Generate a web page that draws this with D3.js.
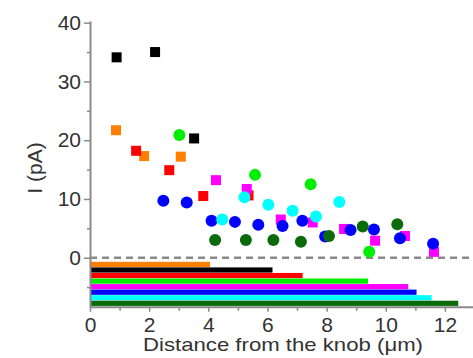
<!DOCTYPE html>
<html><head><meta charset="utf-8">
<script src="https://cdn.jsdelivr.net/npm/d3@7"></script>
<style>body{margin:0;background:#fff}svg{display:block}text{font-family:"Liberation Sans",Arial,sans-serif;fill:#333}</style>
</head><body><svg id="c" width="473" height="358"></svg>
<script>
// ---- data ----
const seriesNames = ["black","orange","red","magenta","lime","blue","cyan","darkgreen"];
const seriesColors = ["#000000","#ff8000","#ff0000","#ff00ff","#00ee00","#0000ff","#00ffff","#0b6b0b"];
const seriesShapes = ["square","square","square","square","circle","circle","circle","circle"];
const blackX = [0.90, 2.20, 3.52];
const blackY = [34.1, 35.0, 20.3];
const orangeX = [0.88, 1.83, 3.07];
const orangeY = [21.7, 17.3, 17.2];
const redX = [1.56, 2.68, 3.83, 5.36];
const redY = [18.2, 14.9, 10.5, 10.6];
const magentaX = [4.26, 5.30, 6.45, 7.53, 8.59, 9.64, 10.65, 11.63];
const magentaY = [13.2, 11.7, 6.5, 6.0, 4.9, 2.9, 3.7, 1.0];
const limeX = [3.02, 5.58, 7.46, 9.44];
const limeY = [20.9, 14.1, 12.5, 1.0];
const blueX = [2.48, 3.27, 4.11, 4.90, 5.69, 6.51, 7.18, 7.95, 8.81, 9.60, 10.48, 11.60];
const blueY = [9.7, 9.4, 6.3, 6.1, 5.6, 5.4, 6.3, 3.6, 4.7, 4.8, 3.3, 2.4];
const cyanX = [4.47, 5.22, 6.03, 6.85, 7.64, 8.43];
const cyanY = [6.5, 10.3, 9.0, 8.0, 7.0, 9.5];
const dkgreenX = [4.23, 5.27, 6.20, 7.13, 8.08, 9.22, 10.39];
const dkgreenY = [3.0, 3.0, 3.0, 2.7, 3.7, 5.3, 5.7];
// range bars (max distance per series), top to bottom
const barOrder = ["orange","black","red","lime","magenta","blue","cyan","darkgreen"];
const barEnds = [4.06, 6.17, 7.19, 9.40, 10.76, 11.04, 11.55, 12.45];
const xTickLabels = [0, 2, 4, 6, 8, 10, 12];
const yTickLabels = [0, 10, 20, 30, 40];
const xLabel = "Distance from the knob (μm)";
const yLabel = "I (pA)";

const seriesX = {black:blackX, orange:orangeX, red:redX, magenta:magentaX, lime:limeX, blue:blueX, cyan:cyanX, darkgreen:dkgreenX};
const seriesY = {black:blackY, orange:orangeY, red:redY, magenta:magentaY, lime:limeY, blue:blueY, cyan:cyanY, darkgreen:dkgreenY};
const colorOf = Object.fromEntries(seriesNames.map((n,i)=>[n,seriesColors[i]]));

// ---- layout ----
const svg = d3.select("#c");
const x = d3.scaleLinear().domain([0, 13]).range([90, 474.5]);
const y = d3.scaleLinear().domain([-8.35, 40.3]).range([306.8, 20.9]);
const axisColor = "#8a8a8a";

// bars
const band = d3.scaleBand().domain(barOrder).range([y(-0.7), y(-8.2)]).paddingInner(0.06);
svg.append("g").selectAll("rect").data(barOrder).join("rect")
  .attr("x", x(0)).attr("y", d => band(d))
  .attr("width", (d,i) => x(barEnds[i]) - x(0))
  .attr("height", band.bandwidth())
  .attr("fill", d => colorOf[d]);

// zero dashed line
svg.append("line").attr("x1", x(0)).attr("x2", 473).attr("y1", y(0)).attr("y2", y(0))
  .attr("stroke", axisColor).attr("stroke-width", 2.5).attr("stroke-dasharray", "7,5");

// points
const pts = svg.append("g");
seriesNames.forEach((n,i) => {
  const data = seriesX[n].map((v,j)=>({x:v, y:seriesY[n][j]}));
  if (seriesShapes[i] === "square") {
    pts.append("g").selectAll("rect").data(data).join("rect")
      .attr("x", d => x(d.x)-5).attr("y", d => y(d.y)-5)
      .attr("width", 10).attr("height", 10).attr("fill", seriesColors[i]);
  } else {
    pts.append("g").selectAll("circle").data(data).join("circle")
      .attr("cx", d => x(d.x)).attr("cy", d => y(d.y)).attr("r", 6)
      .attr("fill", seriesColors[i]);
  }
});

// axes
const yAxis = svg.append("g").attr("transform", `translate(${x(0)},0)`);
yAxis.call(d3.axisLeft(y).tickValues(yTickLabels).tickSize(6).tickSizeOuter(0).tickPadding(3).tickFormat(d3.format("d")));
const yMinor = svg.append("g").attr("transform", `translate(${x(0)},0)`);
yMinor.call(d3.axisLeft(y).tickValues([-5,5,15,25,35]).tickSize(3).tickSizeOuter(0).tickFormat(""));
yMinor.select(".domain").remove();

const xAxis = svg.append("g").attr("transform", `translate(0,${y.range()[0]})`);
xAxis.call(d3.axisBottom(x).tickValues(xTickLabels).tickSize(5).tickSizeOuter(0).tickPadding(5).tickFormat(d3.format("d")));
const xMinor = svg.append("g").attr("transform", `translate(0,${y.range()[0]})`);
xMinor.call(d3.axisBottom(x).tickValues([1,3,5,7,9,11]).tickSize(4).tickSizeOuter(0).tickFormat(""));
xMinor.select(".domain").remove();

svg.selectAll(".domain").attr("stroke", axisColor).attr("stroke-width", 2);
svg.selectAll(".tick line").attr("stroke", axisColor).attr("stroke-width", 1.5);
svg.selectAll(".tick text").attr("font-size", 21).attr("font-family", '"Liberation Sans",Arial,sans-serif').attr("fill", "#333");

// titles
svg.append("text").attr("x", 283).attr("y", 351).attr("text-anchor", "middle")
  .attr("font-size", 19).attr("textLength", 280).attr("lengthAdjust", "spacingAndGlyphs").text(xLabel);
svg.append("text").attr("transform", `translate(42,168) rotate(-90)`).attr("text-anchor", "middle")
  .attr("font-size", 21).text(yLabel);
</script></body></html>
